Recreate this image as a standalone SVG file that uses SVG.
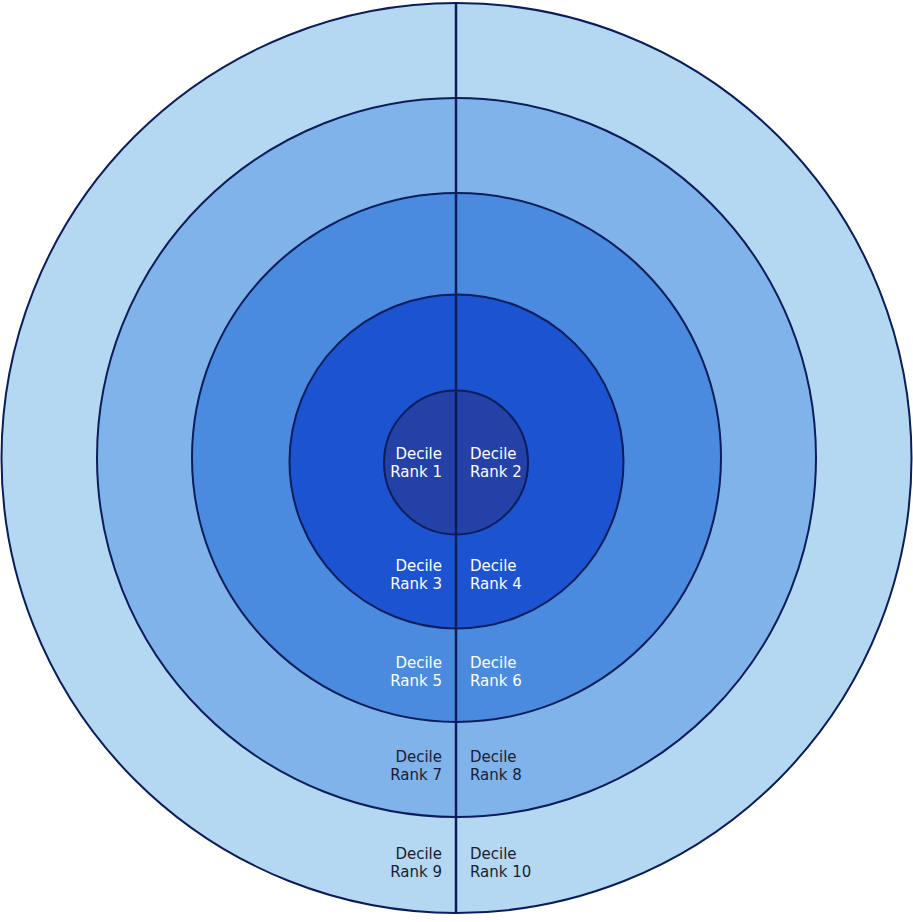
<svg xmlns="http://www.w3.org/2000/svg" width="913" height="922" viewBox="0 0 913 922">
<style>
.ring{stroke:#0B1D5A;stroke-width:2}
.t{font-family:"DejaVu Sans","Liberation Sans",sans-serif;font-size:15px}
.l{text-anchor:end}
.w{fill:#FFFFFF}
.d{fill:#1A1D33}
</style>
<rect width="913" height="922" fill="#FFFFFF"/>
<g id="ring-9-10"><circle class="ring" cx="456.5" cy="458" r="455" fill="#B5D8F2"/></g>
<g id="ring-7-8"><circle class="ring" cx="456.5" cy="457.5" r="359.5" fill="#80B3EA"/></g>
<g id="ring-5-6"><circle class="ring" cx="456.5" cy="457.5" r="264.5" fill="#4A8BDF"/></g>
<g id="ring-3-4"><circle class="ring" cx="456.5" cy="461.5" r="167" fill="#1C53D0"/></g>
<g id="ring-1-2"><circle class="ring" cx="456" cy="462.5" r="72" fill="#2441A7"/></g>
<g id="connectors"><line x1="456" y1="3" x2="456" y2="913" stroke="#0B1D5A" stroke-width="2.5"/></g>
<g id="labels-left" class="t l">
<text class="w"><tspan x="442" y="459">Decile</tspan><tspan x="442" y="477">Rank 1</tspan></text>
<text class="w"><tspan x="442" y="571">Decile</tspan><tspan x="442" y="589">Rank 3</tspan></text>
<text class="w"><tspan x="442" y="668">Decile</tspan><tspan x="442" y="686">Rank 5</tspan></text>
<text class="d"><tspan x="442" y="762">Decile</tspan><tspan x="442" y="780">Rank 7</tspan></text>
<text class="d"><tspan x="442" y="859">Decile</tspan><tspan x="442" y="877">Rank 9</tspan></text>
</g>
<g id="labels-right" class="t">
<text class="w"><tspan x="470" y="459">Decile</tspan><tspan x="470" y="477">Rank 2</tspan></text>
<text class="w"><tspan x="470" y="571">Decile</tspan><tspan x="470" y="589">Rank 4</tspan></text>
<text class="w"><tspan x="470" y="668">Decile</tspan><tspan x="470" y="686">Rank 6</tspan></text>
<text class="d"><tspan x="470" y="762">Decile</tspan><tspan x="470" y="780">Rank 8</tspan></text>
<text class="d"><tspan x="470" y="859">Decile</tspan><tspan x="470" y="877">Rank 10</tspan></text>
</g>
</svg>
